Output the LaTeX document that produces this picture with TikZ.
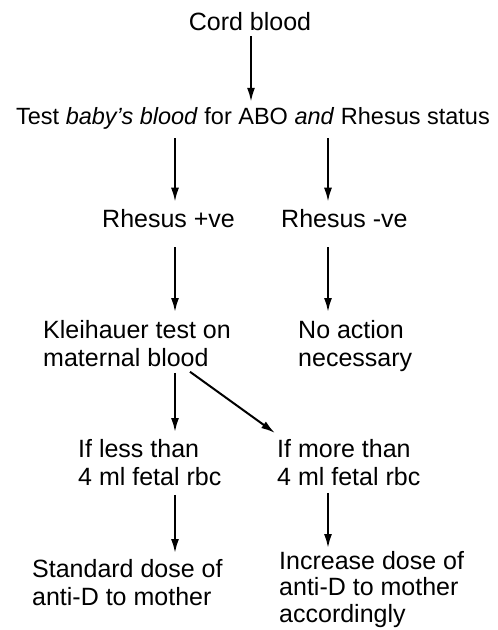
\documentclass[tikz,border=0pt]{standalone}
\usepackage{fontspec}
\setmainfont{Liberation Sans}
\usetikzlibrary{arrows.meta, positioning, calc}

\tikzset{
  txt/.style={inner sep=0pt, align=left, font=\fontsize{25}{28}\selectfont},
  arr/.style={-{Latex[length=14pt,width=8pt]}, line width=2pt},
}

\begin{document}
\begin{tikzpicture}[x=1pt,y=-1pt]
\useasboundingbox (0,0) rectangle (498,630);
% columns of the arrows
\coordinate (colM) at (251,0);
\coordinate (colL) at (175,0);
\coordinate (colR) at (328,0);
\coordinate (colD) at (190,0);

\node[txt, anchor=base] (cord) at (250,30) {Cord blood};
\node[txt, anchor=base, font=\fontsize{23.5}{28}\selectfont] (test) at (253,124)
  {Test \textit{baby's blood} for ABO \textit{and} Rhesus status};

\node[txt, anchor=base west] (rpos) at (102,227) {Rhesus +ve};
\node[txt, anchor=base west] (rneg) at (281,227) {Rhesus -ve};

\node[txt, anchor=north west] (klei) at (43,320) {Kleihauer test on\\maternal blood};
\node[txt, anchor=north west] (noact) at (298,320) {No action\\necessary};

\node[txt, anchor=north west] (less) at (78,439) {If less than\\4 ml fetal rbc};
\node[txt, anchor=north west] (more) at (277,439) {If more than\\4 ml fetal rbc};

\node[txt, anchor=north west] (std) at (32,559) {Standard dose of\\anti-D to mother};
\node[txt, anchor=north west, font=\fontsize{25}{26.5}\selectfont] (incr) at (279,551)
  {Increase dose of\\anti-D to mother\\accordingly};

% arrows
\draw[arr, shorten <=6pt, shorten >=5pt] (cord.south -| colM) -- (test.north -| colM);
\draw[arr, shorten <=9pt, shorten >=7pt] (test.south -| colL) -- (rpos.north -| colL);
\draw[arr, shorten <=9pt, shorten >=7pt] (test.south -| colR) -- (rneg.north -| colR);
\draw[arr, shorten <=20pt, shorten >=8pt] (rpos.south -| colL) -- (klei.north -| colL);
\draw[arr, shorten <=20pt, shorten >=8pt] (rneg.south -| colR) -- (noact.north -| colR);
\draw[arr, shorten <=6pt, shorten >=7pt] (klei.south -| colL) -- (less.north -| colL);
\draw[arr] ($(klei.south -| colD)+(0,5)$) -- ($(more.north west)+(-2,-6)$);
\draw[arr, shorten <=9pt, shorten >=6pt] (less.south -| colL) -- (std.north -| colL);
\draw[arr, shorten <=7pt, shorten >=3pt] (more.south -| colR) -- (incr.north -| colR);
\end{tikzpicture}
\end{document}
